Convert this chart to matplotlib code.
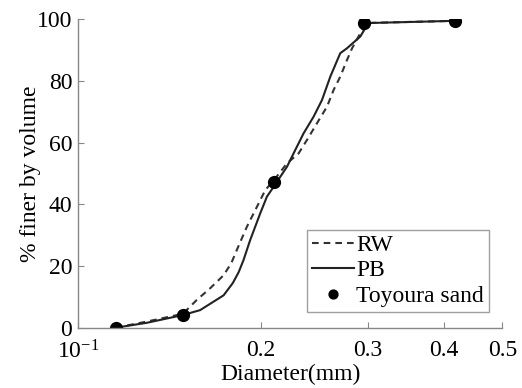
import matplotlib
matplotlib.use("Agg")
import matplotlib.pyplot as plt
from matplotlib.ticker import NullLocator

plt.rcParams['font.family'] = ['Liberation Serif', 'DejaVu Serif']
plt.rcParams['mathtext.fontset'] = 'custom'
plt.rcParams['mathtext.rm'] = 'Liberation Serif'
plt.rcParams['mathtext.it'] = 'Liberation Serif:italic'

# Data
rw_x = [0.1155, 0.13, 0.1489, 0.1570, 0.1652, 0.1738, 0.1790, 0.1830, 0.1898, 0.1972,
        0.2035, 0.2114, 0.2210, 0.2309, 0.2384, 0.2476, 0.2572, 0.2637, 0.2704, 0.2774,
        0.2828, 0.2937, 0.2985, 0.4183]
rw_y = [0, 2.0, 4.5, 9.0, 12.8, 17.0, 21.0, 25.5, 32.7, 39.2,
        44.6, 48.4, 53.3, 56.5, 60.9, 66.3, 71.7, 77.1, 81.4, 86.8,
        90.6, 96.5, 98.8, 99.5]

pb_x = [0.1155, 0.13, 0.1489, 0.1590, 0.1738, 0.1800, 0.1840, 0.1874, 0.1922, 0.1997, 0.2048,
        0.2101, 0.2210, 0.2280, 0.2353, 0.2444, 0.2523, 0.2604, 0.2704, 0.2774, 0.2917,
        0.2973, 0.3030, 0.4183]
pb_y = [0, 1.6, 4.1, 5.7, 10.5, 14.5, 18.0, 21.9, 28.4, 37.1, 42.5,
        45.7, 52.2, 57.6, 63.0, 68.4, 73.8, 81.4, 89.0, 90.6, 94.4,
        97.1, 98.8, 99.5]

toyoura_x = [0.1155, 0.1489, 0.2101, 0.2954, 0.4183]
toyoura_y = [0, 4.1, 47.3, 98.7, 99.6]

xticks = [0.1, 0.2, 0.3, 0.4, 0.5]
xticklabels = [r'$10^{-1}$', '0.2', '0.3', '0.4', '0.5']
yticks = [0, 20, 40, 60, 80, 100]

FS = 17

fig = plt.figure(figsize=(5.22, 3.88), dpi=100)
ax = fig.add_axes([0.1489, 0.1554, 0.8137, 0.7949])

ax.plot(rw_x, rw_y, color='#333333', lw=1.5, ls=(0, (3.2, 2.4)), label='RW')
ax.plot(pb_x, pb_y, color='#222222', lw=1.5, ls='-', label='PB')
ax.plot(toyoura_x, toyoura_y, ls='none', marker='o', ms=8.5, color='black',
        label='Toyoura sand')

ax.set_xscale('log')
ax.set_xlim(0.1, 0.5)
ax.set_ylim(0, 100)
ax.xaxis.set_minor_locator(NullLocator())
ax.set_xticks(xticks)
ax.set_xticklabels(xticklabels)
ax.set_yticks(yticks)

for s in ['top', 'right']:
    ax.spines[s].set_visible(False)
for s in ['left', 'bottom']:
    ax.spines[s].set_color('#888888')
    ax.spines[s].set_linewidth(1.0)

ax.tick_params(axis='both', direction='in', length=4, color='#888888',
               labelsize=FS, labelcolor='black')
ax.tick_params(axis='x', pad=9)
ax.tick_params(axis='y', pad=4)

ax.set_xlabel('Diameter(mm)', fontsize=FS, labelpad=0)
ax.set_ylabel('% finer by volume', fontsize=FS, labelpad=-3)

leg = ax.legend(loc='lower right', bbox_to_anchor=(0.968, 0.052), fontsize=FS,
                frameon=True, fancybox=False, edgecolor='#888888',
                handlelength=1.8, handletextpad=0.1, labelspacing=0.17,
                borderpad=0.2, markerscale=0.75, borderaxespad=0)
leg.get_frame().set_linewidth(1.0)

fig.savefig('out.png', dpi=100)
